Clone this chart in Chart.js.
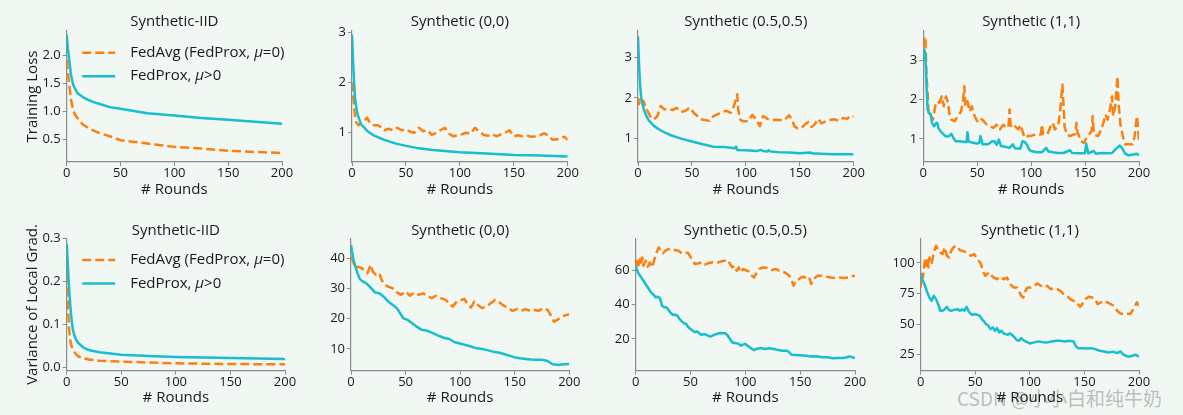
<!DOCTYPE html>
<html><head><meta charset="utf-8">
<script src="https://cdn.jsdelivr.net/npm/chart.js@4"></script>
<style>
html,body{margin:0;padding:0;}
body{width:1183px;height:415px;overflow:hidden;position:relative;background:#f1f7f2;}
canvas{position:absolute;}
#wm{position:absolute;left:957px;top:384px;font-family:'Noto Sans CJK SC',sans-serif;font-size:19px;color:rgba(150,150,150,0.6);white-space:nowrap;}
</style>
</head><body>
<div id="wm">CSDN @小小白和纯牛奶</div>
<script>
// ---------------- data ----------------
const xTicks = [0, 50, 100, 150, 200];
const titles = ['Synthetic-IID', 'Synthetic (0,0)', 'Synthetic (0.5,0.5)', 'Synthetic (1,1)'];
const seriesNames = ['FedAvg (FedProx, μ=0)', 'FedProx, μ>0'];
const yTitles = ['Training Loss', 'Variance of Local Grad.'];

// Panel 1: Synthetic-IID training loss
const p1Rounds = [0,1,2,4,6,8,10,15,20,25,30,40,50,75,100,125,150,175,200];
const p1FedProx = [2.37,2.15,1.98,1.66,1.48,1.40,1.33,1.26,1.21,1.17,1.14,1.08,1.05,0.97,0.93,0.885,0.855,0.82,0.785];
const p1FedAvg = [1.92,1.74,1.54,1.21,1.03,0.94,0.885,0.77,0.71,0.66,0.62,0.56,0.49,0.43,0.37,0.34,0.30,0.28,0.26];
const p1YTicks = [0.5,1.0,1.5,2.0];
const p1YLabels = ['0.5','1.0','1.5','2.0'];

// Panel 2: Synthetic (0,0) training loss
const p2ProxRounds = [0,1,2,3,5,8,10,15,20,30,40,50,60,75,100,125,150,175,200];
const p2FedProx = [2.95,2.42,1.97,1.64,1.38,1.18,1.13,1.02,0.95,0.86,0.79,0.74,0.70,0.66,0.615,0.59,0.56,0.55,0.53];
const p2AvgRounds = [0,1,2,3,4,6,8,10,12,14,16,18,20,24,28,30,34,38,42,46,50,54,58,62,66,70,74,78,82,86,90,94,98,102,106,110,114,118,122,126,130,134,138,142,146,150,154,158,162,166,170,174,178,182,186,190,194,197,200];
const p2FedAvg = [2.0,1.75,1.5,1.3,1.2,1.15,1.18,1.2,1.25,1.3,1.22,1.17,1.15,1.15,1.1,1.05,1.08,1.05,1.1,1.05,1.07,1.02,1.0,1.1,1.03,1.05,0.96,1.0,1.05,1.1,0.98,0.93,0.95,0.97,1.0,0.98,1.1,1.02,0.96,0.94,0.97,0.93,0.97,1.0,1.05,0.93,0.95,0.93,0.95,0.92,0.93,0.95,0.99,0.95,0.86,0.87,0.9,0.92,0.86];
const p2YTicks = [1,2,3];
const p2YLabels = ['1','2','3'];

// Panel 3: Synthetic (0.5,0.5) training loss
const p3ProxRounds = [0,1,2,3,5,7,10,15,20,25,30,40,50,60,70,80,90,91,92,100,110,114,116,120,121,123,130,140,150,160,162,165,180,200];
const p3FedProx = [3.53,2.79,2.29,2.0,1.76,1.59,1.44,1.30,1.21,1.14,1.08,0.99,0.92,0.85,0.79,0.78,0.75,0.79,0.71,0.70,0.68,0.71,0.68,0.67,0.70,0.67,0.655,0.645,0.63,0.645,0.62,0.62,0.605,0.60];
const p3AvgRounds = [0,1,2,3,5,8,12,15,18,21,24,28,32,36,40,44,48,52,55,58,62,66,70,74,78,82,86,89,92,93,95,98,102,106,110,113,116,120,124,128,132,136,140,143,145,148,152,155,158,161,164,167,170,174,178,182,186,190,194,197,200];
const p3FedAvg = [2.0,1.85,2.0,1.95,1.92,1.72,1.51,1.47,1.55,1.80,1.72,1.72,1.70,1.75,1.65,1.68,1.76,1.62,1.55,1.47,1.45,1.43,1.55,1.60,1.65,1.68,1.63,1.80,2.09,1.7,1.45,1.42,1.42,1.58,1.45,1.30,1.55,1.48,1.45,1.46,1.45,1.45,1.57,1.45,1.30,1.24,1.27,1.35,1.40,1.28,1.35,1.48,1.37,1.42,1.45,1.47,1.43,1.50,1.48,1.56,1.53];
const p3YTicks = [1,2,3];
const p3YLabels = ['1','2','3'];

// Panel 4: Synthetic (1,1) training loss
const p4ProxRounds = [0,1,2,3,4,5,7,8,10,12,13,14,16,18,20,22,24,26,28,30,34,38,40,41,42,46,50,52,53,55,60,64,66,68,70,72,76,80,83,85,90,92,94,96,98,100,105,110,114,116,120,125,130,136,138,145,150,151,153,158,160,165,170,175,179,182,184,187,190,195,198,200];
const p4FedProx = [3.02,3.27,3.1,2.34,1.75,1.68,1.62,1.41,1.32,1.41,1.4,1.28,1.19,1.14,1.08,1.06,1.07,1.13,1.02,0.94,0.94,0.92,0.92,1.17,0.93,0.90,0.88,0.90,1.07,0.86,0.86,0.94,0.94,0.85,0.98,0.82,0.80,0.77,0.86,0.76,0.75,0.94,0.92,0.86,0.73,0.69,0.66,0.66,0.77,0.68,0.66,0.64,0.64,0.71,0.64,0.63,0.63,0.88,0.63,0.69,0.62,0.64,0.63,0.64,0.75,0.83,0.78,0.63,0.58,0.60,0.62,0.58];
const p4AvgRounds = [0,1,2,3,4,5,6,7,9,11,13,15,17,19,21,23,24,26,29,32,35,37,38,39,41,43,45,47,50,53,56,59,62,65,68,71,74,77,79,80,81,82,85,88,90,92,94,97,100,104,108,109,110,111,112,115,118,120,122,125,127,129,131,133,136,139,141,142,143,144,146,149,152,155,156,157,158,159,162,165,167,169,171,173,175,176,178,180,181,183,185,187,190,194,196,198,199,200];
const p4FedAvg = [3.36,3.61,3.53,2.59,2.17,1.66,1.7,1.58,1.49,1.83,1.96,1.92,2.08,1.83,2.08,1.92,1.66,1.49,1.45,1.58,1.70,2.0,2.34,1.83,1.96,1.70,1.83,1.62,1.45,1.53,1.45,1.36,1.32,1.28,1.36,1.24,1.36,1.28,1.30,1.75,1.35,1.28,1.32,1.24,1.36,1.19,1.03,1.07,1.08,1.11,1.11,1.11,1.36,1.12,1.11,1.11,1.32,1.41,1.24,1.32,1.75,2.38,1.32,1.11,1.07,1.11,1.12,1.41,1.15,1.10,0.94,0.90,1.07,1.15,1.2,1.58,1.2,1.10,1.07,1.24,1.41,1.62,1.49,1.75,2.08,1.58,1.83,2.59,1.92,1.32,1.07,0.86,0.86,0.86,1.07,1.58,1.32,0.94];
const p4YTicks = [1,2,3];
const p4YLabels = ['1','2','3'];

// Panel 5: Synthetic-IID variance of local gradients
const p5Rounds = [0,1,2,3,4,5,6,8,10,15,20,30,40,50,75,100,150,200];
const p5FedProx = [0.288,0.24,0.193,0.154,0.123,0.10,0.084,0.068,0.059,0.047,0.041,0.036,0.033,0.030,0.027,0.025,0.0225,0.020];
const p5FedAvg = [0.216,0.154,0.096,0.068,0.053,0.047,0.041,0.033,0.027,0.022,0.019,0.016,0.015,0.014,0.012,0.010,0.0085,0.0078];
const p5YTicks = [0.0,0.1,0.2,0.3];
const p5YLabels = ['0.0','0.1','0.2','0.3'];

// Panel 6: Synthetic (0,0) variance
const p6ProxRounds = [0,2,4,6,8,10,14,18,22,26,30,34,38,42,45,48,52,56,60,65,70,75,80,85,90,95,100,105,110,115,120,125,130,135,140,145,150,155,160,165,170,175,180,185,190,195,200];
const p6FedProx = [44.4,40,37.2,35,33.2,32.5,31.7,30.3,28.7,28.4,27.3,25.7,24.6,23.5,21.8,20.1,19.6,18.5,17.4,16.3,16.0,15.2,14.4,13.7,13.3,12.2,11.8,11.3,10.8,10.2,10.0,9.6,9.1,8.8,8.3,7.8,7.2,6.9,6.7,6.5,6.4,6.4,6.0,4.9,4.7,4.9,5.0];
const p6AvgRounds = [0,2,4,6,9,12,15,18,20,23,26,28,31,34,38,42,46,50,54,58,62,66,70,74,78,82,86,90,93,97,101,104,107,110,113,116,120,124,128,132,136,140,144,148,152,156,160,164,168,172,176,180,183,186,189,193,197,200];
const p6FedAvg = [40.5,38.9,36.7,37.2,36.9,36.1,35.0,37.8,35.6,34.5,35.0,32.8,31.2,30.6,30.1,28.7,27.9,29.0,27.6,28.7,27.9,28.4,27.6,26.8,27.6,26.8,26.4,25.1,24.0,25.7,26.2,26.5,24.6,23.7,25.7,24.6,23.5,24.0,25.1,26.2,25.4,24.3,23.5,22.6,23.2,22.6,23.2,22.6,22.9,22.6,23.5,22.9,21.2,19.0,19.6,20.7,21.2,21.5];
const p6YTicks = [10,20,30,40];
const p6YLabels = ['10','20','30','40'];

// Panel 7: Synthetic (0.5,0.5) variance
const p7ProxRounds = [0,2,4,6,8,10,12,14,16,18,20,22,24,26,28,30,32,34,36,38,40,42,44,46,48,50,52,54,56,58,60,62,64,66,68,70,72,74,76,78,80,82,84,86,88,90,92,94,96,98,100,102,104,106,108,110,114,118,122,126,130,134,138,140,142,146,150,155,160,165,170,175,180,185,190,195,200];
const p7FedProx = [62.5,58.6,56.7,54.8,52.9,50.9,49,47,46,44.2,44.5,43.8,39.3,38.4,38.4,36.8,35.1,33.9,34.1,33.5,31.6,30.2,29.1,28.7,26.8,25.8,24.8,23.9,24.4,23.3,22.3,22.9,22.5,21.9,21.4,21.9,22.5,22.9,23.3,23.5,23.3,23.3,21.9,20.0,18.1,17.7,17.5,17.1,16.1,16.7,17.1,16.1,15.2,14.2,13.6,14.2,14.8,14.2,14.6,14.2,13.6,13.2,13.2,12.3,10.9,10.7,10.5,10.3,9.8,10.0,9.4,9.4,8.8,9.0,9.0,9.8,9.0];
const p7AvgRounds = [0,1,2,3,4,5,6,7,9,11,13,15,17,19,21,23,25,27,30,33,36,39,42,45,48,51,54,57,60,63,66,69,72,75,78,81,84,86,88,90,92,94,96,98,100,103,106,108,110,113,116,120,124,128,132,136,140,142,144,146,149,152,155,158,160,162,166,170,174,178,182,186,190,194,197,200];
const p7FedAvg = [62.5,65.4,61.5,64.4,66.4,63.5,67.3,62.5,65.4,61.9,64.4,61.5,66.0,70.0,73.1,71.2,69.7,71.2,72.2,71.2,71.6,71.2,69.7,70.2,69.7,66.4,63.5,63.9,64.4,63.1,63.9,64.4,64.8,64.4,65.0,65.4,65.8,63.5,61.5,62.5,59.6,61.5,58.6,60.6,60,59.2,56.7,55.7,58.1,60.6,61.5,61.2,60,60.6,59.2,58.6,56.7,54.8,50.9,53.8,54.8,56.1,55.7,56.1,51.9,54.8,56.7,56.7,56.1,55.7,55.4,55.7,55.4,55.7,56.3,56.7];
const p7YTicks = [20,40,60];
const p7YLabels = ['20','40','60'];

// Panel 8: Synthetic (1,1) variance
const p8ProxRounds = [0,2,4,6,8,10,12,14,16,18,20,22,24,26,28,30,32,34,36,38,40,42,44,46,48,50,52,54,56,58,60,62,64,66,68,70,72,74,76,78,80,82,84,86,88,90,92,94,96,98,100,104,108,112,116,120,124,128,132,136,140,142,144,148,152,156,160,164,168,172,176,180,183,186,190,194,197,200];
const p8FedProx = [91.3,85.3,81.3,75.8,71.7,69,73.1,70.4,66.3,60.9,60.9,62.2,64.1,61.4,60.9,61.4,62,62.2,60.9,62.2,60.9,64.1,60.3,58.2,57.6,58.2,57.6,56.8,54.1,52.2,50,48.6,45.9,47.3,44.6,46.7,43.2,44.6,42.4,41.8,41.3,42.4,41,39.1,37,36.4,38.6,37,35.9,35.1,34.2,35.1,35.9,35.3,35.1,35.9,36.4,36.4,35.9,36.4,35.9,32.3,30.4,30.4,30.2,30.4,29.6,28.3,27.7,26.9,27.4,26.4,27.7,25,23.4,24.2,25,23.4];
const p8AvgRounds = [0,1,2,3,4,5,6,7,8,10,12,14,16,18,20,22,24,26,28,30,32,34,36,38,40,43,46,49,52,55,57,59,61,63,65,67,70,73,76,79,82,85,88,90,92,94,96,98,101,104,107,110,113,116,119,122,125,128,131,134,137,140,143,146,148,151,154,157,160,162,165,168,171,174,177,180,183,186,189,192,195,198,200];
const p8FedAvg = [79.9,90.8,88,96.2,103,97.6,104.3,96.2,104.3,98.9,108.4,113.9,111.1,108.4,107.1,112.5,105.7,104.3,109.8,112.5,113.9,112.5,110.3,109.8,109.2,107.6,105.7,107.1,103,99.5,93.5,89.4,90.8,92.1,89.4,88,86.7,88.6,86.7,88,82.6,79.9,79.9,77.2,73.1,71.7,77.2,79.9,79.9,81.3,83.2,81.3,79.9,81.3,78.5,79.3,78.5,77.2,74.5,73.1,70.4,69,67.7,64.1,66.3,70.4,72.3,71.7,70.4,66.3,67.7,69,67.7,66.3,64.9,60.9,58.7,58.2,58.7,58.2,62.2,67.7,64.9];
const p8YTicks = [25,50,75,100];
const p8YLabels = ['25','50','75','100'];

// ---------------- drawing ----------------
const FONT = "'Open Sans', 'DejaVu Sans', sans-serif";
const ORANGE = '#ff7f0e';
const CYAN = '#17becf';
const TXT = '#1a1a1a';
const SPINE = '#8c8c8c';

function xy(rs, vs) { return rs.map((r, i) => ({x: r, y: vs[i]})); }

const mplLegend = {
  id: 'mplLegend',
  afterDatasetsDraw(chart, args, opts) {
    if (!opts || !opts.display) return;
    const {ctx, chartArea: a} = chart;
    ctx.save();
    [1, 0].forEach((di, k) => {
      const ds = chart.data.datasets[di];
      const y = a.top + opts.y0 + k * opts.dy;
      ctx.beginPath();
      ctx.setLineDash(ds.borderDash || []);
      ctx.lineWidth = ds.borderWidth;
      ctx.strokeStyle = ds.borderColor;
      ctx.lineCap = 'butt';
      ctx.moveTo(a.left + opts.x0, y);
      ctx.lineTo(a.left + opts.x1, y);
      ctx.stroke();
      ctx.setLineDash([]);
      let x = a.left + opts.tx;
      ctx.fillStyle = TXT;
      ctx.textBaseline = 'middle';
      ctx.textAlign = 'left';
      const parts = ds.label.split('μ');
      parts.forEach((p, j) => {
        if (j > 0) {
          ctx.font = 'italic ' + opts.size + 'px ' + FONT;
          ctx.fillText('μ', x, y);
          x += ctx.measureText('μ').width;
        }
        ctx.font = opts.size + 'px ' + FONT;
        ctx.fillText(p, x, y);
        x += ctx.measureText(p).width;
      });
    });
    ctx.restore();
  }
};

function panel(g, d) {
  const cv = document.createElement('canvas');
  cv.width = g.w; cv.height = g.h;
  cv.style.left = g.left + 'px'; cv.style.top = g.top + 'px';
  cv.style.width = g.w + 'px'; cv.style.height = g.h + 'px';
  document.body.appendChild(cv);
  new Chart(cv, {
    type: 'line',
    data: {
      datasets: [
        {label: seriesNames[1], data: xy(d.proxR, d.proxV), xAxisID: 'x', yAxisID: 'y', borderColor: CYAN, backgroundColor: CYAN, borderWidth: 2.5, fill: false},
        {label: seriesNames[0], data: xy(d.avgR, d.avgV), xAxisID: 'x', yAxisID: 'y', borderColor: ORANGE, backgroundColor: ORANGE, borderWidth: 2.5, borderDash: [9, 4], fill: false}
      ]
    },
    plugins: [mplLegend],
    options: {
      responsive: false, animation: false, devicePixelRatio: 1,
      events: [],
      layout: {padding: {left: 0, right: g.w - g.yw - g.pw, top: 0, bottom: 0}},
      elements: {point: {radius: 0}, line: {tension: 0, borderCapStyle: 'butt', borderJoinStyle: 'round'}},
      plugins: {
        legend: {display: false},
        tooltip: {enabled: false},
        title: {display: false},
        mplLegend: d.legend ? {display: true, x0: 15.5, x1: 48.5, tx: 63.5, y0: 21.7, dy: 23.5, size: 15} : {display: false}
      },
      scales: {
        x: {
          type: 'linear', position: 'bottom', min: 0, max: 200,
          afterBuildTicks: s => { s.ticks = xTicks.map(v => ({value: v})); },
          afterFit: s => { s.height = g.xh; },
          ticks: {font: {family: FONT, size: 13, lineHeight: 1}, color: TXT, padding: 1, maxRotation: 0, autoSkip: false},
          grid: {drawOnChartArea: false, drawTicks: true, tickLength: 4, tickColor: SPINE, tickWidth: 1},
          border: {display: true, color: SPINE, width: 1.2},
          title: {display: true, text: '# Rounds', color: TXT, font: {family: FONT, size: 15, lineHeight: 1.2}, padding: {top: 0, bottom: g.xtpb}}
        },
        panelTitle: {
          type: 'linear', axis: 'x', position: 'top', min: 0, max: 200,
          afterFit: s => { s.height = g.th; },
          ticks: {display: false},
          grid: {display: false, drawTicks: false},
          border: {display: false},
          title: {display: true, text: d.title, color: TXT, font: {family: FONT, size: 15, lineHeight: 1.2}, padding: {top: g.tpt, bottom: 0}}
        },
        y: {
          type: 'linear', min: d.ymin, max: d.ymax,
          afterBuildTicks: s => { s.ticks = d.yTicks.map(v => ({value: v})); },
          afterFit: s => { s.width = g.yw; },
          ticks: {font: {family: FONT, size: 13, lineHeight: 1}, color: TXT, padding: 2, autoSkip: false,
                  callback: (v, i) => d.yLabels[i]},
          grid: {drawOnChartArea: false, drawTicks: true, tickLength: 4, tickColor: SPINE, tickWidth: 1},
          border: {display: true, color: SPINE, width: 1.2},
          title: {display: !!d.yTitle, text: d.yTitle || '', color: TXT, font: {family: FONT, size: 15, lineHeight: 1.2}, padding: {top: 18, bottom: 0}}
        }
      }
    }
  });
}

const TOP = {top: 0, h: 205, th: 31, tpt: 12.5, xh: 43, xtpb: 6};
const BOT = {top: 205, h: 210, th: 33.3, tpt: 16.3, xh: 44.3, xtpb: 8};

panel(Object.assign({left: 6, yw: 60.7, pw: 215.3, w: 301}, TOP),
  {title: titles[0], proxR: p1Rounds, proxV: p1FedProx, avgR: p1Rounds, avgV: p1FedAvg, ymin: 0.10, ymax: 2.44, yTicks: p1YTicks, yLabels: p1YLabels, yTitle: yTitles[0], legend: true});
panel(Object.assign({left: 292, yw: 60, pw: 215.7, w: 301}, TOP),
  {title: titles[1], proxR: p2ProxRounds, proxV: p2FedProx, avgR: p2AvgRounds, avgV: p2FedAvg, ymin: 0.42, ymax: 3.02, yTicks: p2YTicks, yLabels: p2YLabels});
panel(Object.assign({left: 578, yw: 60, pw: 215.7, w: 301}, TOP),
  {title: titles[2], proxR: p3ProxRounds, proxV: p3FedProx, avgR: p3AvgRounds, avgV: p3FedAvg, ymin: 0.41, ymax: 3.66, yTicks: p3YTicks, yLabels: p3YLabels});
panel(Object.assign({left: 863, yw: 60.3, pw: 215.7, w: 301}, TOP),
  {title: titles[3], proxR: p4ProxRounds, proxV: p4FedProx, avgR: p4AvgRounds, avgV: p4FedAvg, ymin: 0.41, ymax: 3.75, yTicks: p4YTicks, yLabels: p4YLabels});

panel(Object.assign({left: 6, yw: 60.7, pw: 218.3, w: 304}, BOT),
  {title: titles[0], proxR: p5Rounds, proxV: p5FedProx, avgR: p5Rounds, avgV: p5FedAvg, ymin: -0.007, ymax: 0.300, yTicks: p5YTicks, yLabels: p5YLabels, yTitle: yTitles[1], legend: true});
panel(Object.assign({left: 291, yw: 60, pw: 218.3, w: 303}, BOT),
  {title: titles[1], proxR: p6ProxRounds, proxV: p6FedProx, avgR: p6AvgRounds, avgV: p6FedAvg, ymin: 2.8, ymax: 46.6, yTicks: p6YTicks, yLabels: p6YLabels});
panel(Object.assign({left: 575, yw: 60.7, pw: 219.3, w: 305}, BOT),
  {title: titles[2], proxR: p7ProxRounds, proxV: p7FedProx, avgR: p7AvgRounds, avgV: p7FedAvg, ymin: 1.6, ymax: 78.4, yTicks: p7YTicks, yLabels: p7YLabels});
panel(Object.assign({left: 860, yw: 60.7, pw: 218.3, w: 304}, BOT),
  {title: titles[3], proxR: p8ProxRounds, proxV: p8FedProx, avgR: p8AvgRounds, avgV: p8FedAvg, ymin: 12, ymax: 120, yTicks: p8YTicks, yLabels: p8YLabels});
</script>
</body></html>
